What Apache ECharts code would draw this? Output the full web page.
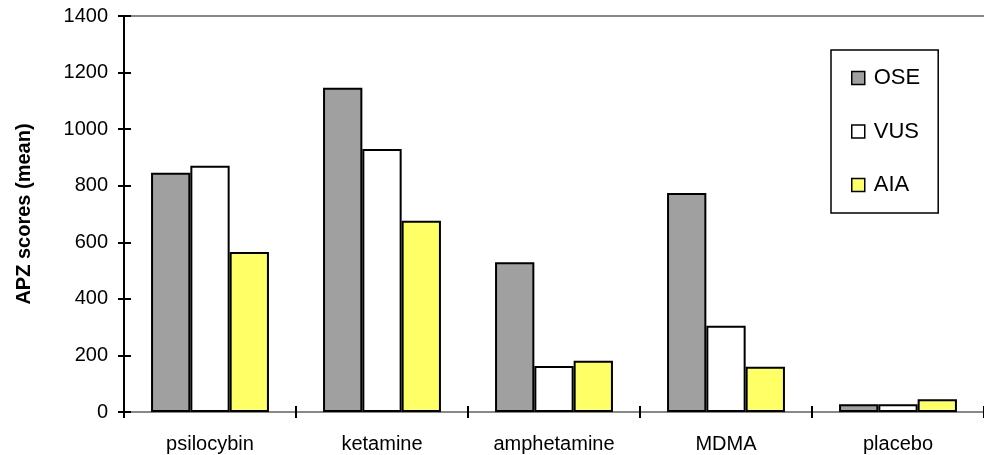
<!DOCTYPE html>
<html>
<head>
<meta charset="utf-8">
<script src="https://cdn.jsdelivr.net/npm/echarts@6/dist/echarts.min.js"></script>
<style>
  html, body { margin: 0; padding: 0; background: #fff; }
  #chart { width: 984px; height: 455px; }
</style>
</head>
<body>
<div id="chart"></div>
<script>
const categories = ['psilocybin', 'ketamine', 'amphetamine', 'MDMA', 'placebo'];
const seriesNames = ['OSE', 'VUS', 'AIA'];
const oseValues = [846, 1146, 529, 774, 27];
const vusValues = [871, 930, 163, 305, 27];
const aiaValues = [566, 676, 181, 160, 45];
const yTicks = { min: 0, max: 1400, interval: 200 };
const yTitle = 'APZ scores (mean)';

const FONT = '"Liberation Sans", Arial, sans-serif';
const colors = ['#a0a0a0', '#ffffff', '#ffff66'];
const valuesList = [oseValues, vusValues, aiaValues];

const chart = echarts.init(document.getElementById('chart'), null, { renderer: 'canvas' });

const hiddenCat = (extra) => Object.assign({
  type: 'category',
  data: categories,
  gridIndex: 0,
  axisLabel: { show: false },
  axisTick: { show: false },
  axisLine: { show: false },
  splitLine: { show: false }
}, extra);

chart.setOption({
  animation: false,
  backgroundColor: '#ffffff',
  textStyle: { fontFamily: FONT },
  grid: { left: 124, top: 16, width: 866, height: 396, containLabel: false },
  legend: {
    orient: 'vertical',
    left: 831,
    top: 50,
    padding: [17, 18, 17, 20],
    itemGap: 31.5,
    itemWidth: 13,
    itemHeight: 13,
    icon: 'rect',
    borderColor: '#000000',
    borderWidth: 1.5,
    backgroundColor: '#ffffff',
    itemStyle: { borderColor: '#000000', borderWidth: 1.5 },
    textStyle: { fontFamily: FONT, fontSize: 22, color: '#000000', lineHeight: 22, padding: [0, 0, 0, 4] },
    data: seriesNames
  },
  xAxis: [
    {
      type: 'category',
      data: categories,
      position: 'bottom',
      axisLine: { show: true, lineStyle: { color: '#888888', width: 2 } },
      axisTick: { show: true, length: 6, inside: false, lineStyle: { color: '#000000', width: 2 } },
      axisLabel: { fontFamily: FONT, fontSize: 20, color: '#000000', margin: 22 },
      splitLine: { show: false }
    },
    hiddenCat({ position: 'bottom', axisTick: { show: true, inside: true, length: 6, lineStyle: { color: '#000000', width: 2 } } }),
    hiddenCat({ position: 'top', axisLine: { show: true, lineStyle: { color: '#888888', width: 2 } } })
  ],
  yAxis: [
    {
      type: 'value',
      position: 'left',
      min: yTicks.min, max: yTicks.max, interval: yTicks.interval,
      name: yTitle,
      nameLocation: 'middle',
      nameGap: 90,
      nameRotate: 90,
      nameTextStyle: { fontFamily: FONT, fontSize: 20, fontWeight: 'bold', color: '#000000' },
      axisLine: { show: true, lineStyle: { color: '#000000', width: 2 } },
      axisTick: { show: true, length: 6, inside: false, lineStyle: { color: '#000000', width: 2 } },
      axisLabel: { fontFamily: FONT, fontSize: 20, color: '#000000', margin: 16, formatter: (v) => String(v) },
      splitLine: { show: false }
    },
    {
      type: 'value',
      position: 'left',
      min: yTicks.min, max: yTicks.max, interval: yTicks.interval,
      axisLine: { show: false },
      axisTick: { show: true, length: 7, inside: true, lineStyle: { color: '#000000', width: 2 } },
      axisLabel: { show: false },
      splitLine: { show: false }
    }
  ],
  series: seriesNames.map((name, i) => ({
    name: name,
    type: 'bar',
    xAxisIndex: 0,
    yAxisIndex: 0,
    data: valuesList[i],
    barWidth: 39.3,
    barGap: '0%',
    itemStyle: { color: colors[i], borderColor: '#000000', borderWidth: 2 },
    emphasis: { disabled: true }
  }))
});
</script>
</body>
</html>
